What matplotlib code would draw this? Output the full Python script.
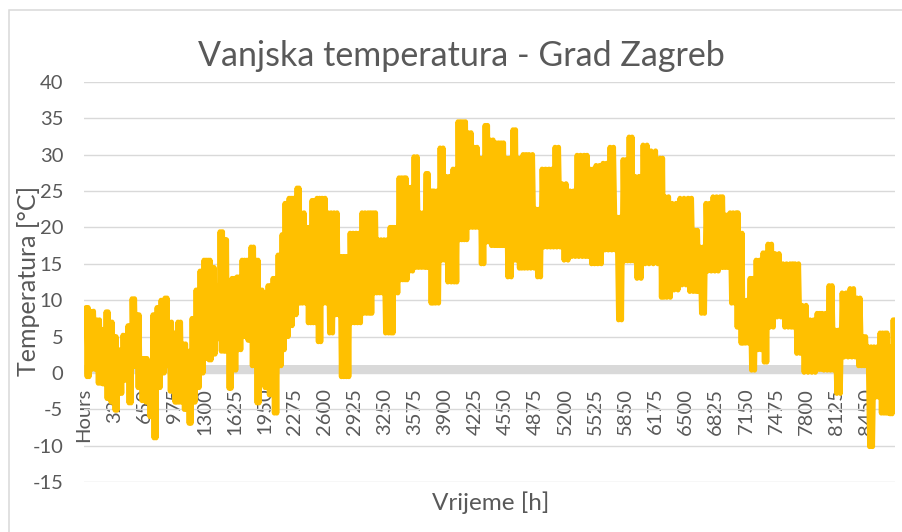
import matplotlib
matplotlib.use("Agg")
import matplotlib.pyplot as plt
from matplotlib.patches import Rectangle
import numpy as np

# ---- data (hour position, upper and lower envelope, °C)
hours = [22, 65, 140, 194, 238, 281, 324, 367, 421, 475, 519, 573, 616, 659, 702,
         745, 789, 832, 875, 918, 972, 1015, 1070, 1124, 1167, 1210, 1253, 1296, 1340,
         1383, 1426, 1469, 1523, 1556, 1599, 1653, 1707, 1761, 1804, 1858, 1901, 1945,
         1988, 2042, 2096, 2139, 2171, 2215, 2258, 2301, 2344, 2409, 2463, 2517, 2571,
         2636, 2701, 2766, 2820, 2874, 2938, 3003, 3068, 3122, 3176, 3241, 3306, 3349,
         3403, 3457, 3500, 3565, 3630, 3695, 3738, 3781, 3846, 3911, 3986, 4040, 4094,
         4148, 4213, 4278, 4332, 4386, 4451, 4505, 4559, 4634, 4689, 4743, 4807, 4883,
         4948, 5023, 5088, 5164, 5250, 5326, 5402, 5466, 5531, 5607, 5682, 5758, 5823,
         5888, 5952, 6039, 6125, 6223, 6277, 6352, 6438, 6525, 6600, 6654, 6719, 6795,
         6871, 6925, 6979, 7044, 7087, 7130, 7195, 7260, 7335, 7389, 7465, 7551, 7627,
         7681, 7757, 7843, 7919, 7973, 8048, 8113, 8189, 8275, 8351, 8416, 8470, 8534,
         8599, 8653, 8697, 8740]

t_high = [9, 8.5, 7.3, 6, 8.4, 7, 5, 3.2, 5.2, 6.5, 10.2, 8, 2, 2, 1,
          8, 9, 10, 10.3, 7, 5.5, 7, 4, 3, 7.5, 11.4, 14, 15.5, 15.5,
          14.5, 12, 19.4, 18.3, 12, 13, 13.2, 15.5, 15.5, 17.3, 15.5, 11.4, 11,
          12, 13, 16.2, 19, 23.3, 24, 24, 25.4, 22, 20, 23.7, 24, 24,
          22, 22, 16, 16, 19.2, 19.2, 22, 22, 22, 18.3, 18.3, 20, 20,
          26.8, 26.8, 25.5, 29.7, 22, 27.4, 25, 25, 30.9, 27, 28, 34.5, 34.5,
          33, 31, 29.5, 34, 32, 31.6, 31.6, 29.5, 33.4, 29.5, 30, 30, 22.5,
          28, 28, 31, 26, 25, 29.9, 29.9, 28, 28.5, 28.8, 31, 21.4, 29.3,
          32.4, 27, 31.3, 30.5, 29.5, 24.2, 23.3, 24, 24, 19.6, 17.3, 23.3, 24.2,
          24.2, 21.7, 22, 22, 19.2, 10, 13, 15.5, 16.5, 17.7, 16.4, 15, 15,
          15, 9.3, 7.3, 8.2, 8.2, 12, 5.9, 11, 11.6, 10.3, 5, 3.6, 3.6,
          5.5, 5.5, 3.6, 7.3]

t_low = [-0.5, 0.5, -1.4, -1.5, -3.5, -4, -5.1, -2.8, -1, -4.1, 0.9, -2, -3.8, -4, -6,
         -8.9, -2, 0, 1, -2.5, -4, -4, -5, -6.9, -4, -2, 0, 2, 1.8,
         2.6, 4.7, 3, 3, -2.1, 0.4, 3.2, 5, 4.5, 1, -4.1, -1.5, -2,
         -3, -5.5, 1, 3.2, 5, 6.5, 8, 9.6, 9.6, 6.9, 6.9, 4.3, 9.6,
         5.5, 8, -0.5, -0.5, 6.9, 6.9, 8.2, 8.2, 11, 11, 5.5, 5.5, 11,
         12.8, 12.8, 14, 14.5, 14.5, 14.5, 9.6, 9.6, 15.5, 12.5, 12.5, 18.3, 18.3,
         20, 20, 15, 18, 17.5, 17.5, 17.5, 13.2, 15.5, 14.4, 14.4, 14.4, 13.2,
         17.3, 17.3, 17.3, 15.5, 16, 16, 16, 15, 15, 16.9, 16.9, 7.3, 15.4,
         15.4, 13, 15, 15, 10.4, 10.4, 11.4, 12.1, 11.2, 11.2, 8.2, 14, 14,
         14.5, 14.5, 9.6, 6.3, 4.1, 4.1, 0.4, 3.2, 1.5, 6.3, 7.7, 6.3, 6.3,
         2.7, 0.1, 0.1, 0.5, 0.4, 0.4, -2.8, 2.2, 2.2, 1, 1, -10.1, -3.3,
         -5.5, -5.5, -5.6, -1.4]

n_categories = 8761
tick_step = 325
tick_positions = list(range(0, n_categories, tick_step))
tick_labels = ["Hours"] + [str(v) for v in tick_positions[1:]]

title = "Vanjska temperatura - Grad Zagreb"
y_title = "Temperatura [°C]"
x_title = "Vrijeme [h]"

# ---- build the trace: daily swings between the read upper and lower envelope
cycles = 2  # day/night swings drawn per read segment
h = np.array(hours, dtype=float)
gaps = np.diff(np.append(h, h[-1] + (h[-1] - h[-2])))
xs, ys = [], []
for hi, g, top, low in zip(h, gaps, t_high, t_low):
    for k in range(cycles):
        xs += [hi + g * (2 * k) / (2 * cycles), hi + g * (2 * k + 1) / (2 * cycles)]
        ys += [top, low]

W, H = 903, 532
plt.rcParams['font.family'] = ['Lato', 'DejaVu Sans']
plt.rcParams['axes.unicode_minus'] = False
fig = plt.figure(figsize=(W / 100, H / 100), dpi=100)
fig.patch.set_facecolor('white')

ax = fig.add_axes([84 / W, 1 - 482.3 / H, 811 / W, 400.6 / H])
ax.set_xlim(-0.5, n_categories - 0.5)
ax.set_ylim(-15, 40)

grey = '#595959'
grid = '#D9D9D9'
ax.grid(axis='y', color=grid, linewidth=1.0)
ax.set_axisbelow(True)
for s in ['left', 'right', 'top']:
    ax.spines[s].set_visible(False)
ax.spines['bottom'].set_position(('data', 0))
ax.spines['bottom'].set_visible(False)
ax.axhspan(-0.15, 1.1, color=grid, lw=0, zorder=1)

ax.tick_params(axis='x', length=0, pad=10.5, labelsize=14.5, labelcolor=grey,
               labelrotation=90)
ax.tick_params(axis='y', length=0, pad=15, labelsize=14.5, labelcolor=grey)

ax.set_yticks(np.arange(-15, 41, 5))
ax.set_xticks(tick_positions)
ax.set_xticklabels(tick_labels, rotation=90, va='top', ha='center')

ax.plot(xs, ys, color='#FFC000', linewidth=3.6, solid_joinstyle='round',
        solid_capstyle='round', zorder=2)

fig.text(461 / W, 1 - 56 / H, title, ha='center', va='center', fontsize=24.5, color=grey)
fig.text(491 / W, 1 - 503 / H, x_title, ha='center', va='center', fontsize=17.5, color=grey)
fig.text(29 / W, 1 - 281 / H, y_title, ha='center', va='center', rotation=90,
         fontsize=18, color=grey)

fig.add_artist(Rectangle((8.5 / W, -0.1), 1.2, 1.1 - 10.5 / H, fill=False,
                         edgecolor=grid, linewidth=1.1, transform=fig.transFigure))

fig.savefig('out.png', dpi=100)
